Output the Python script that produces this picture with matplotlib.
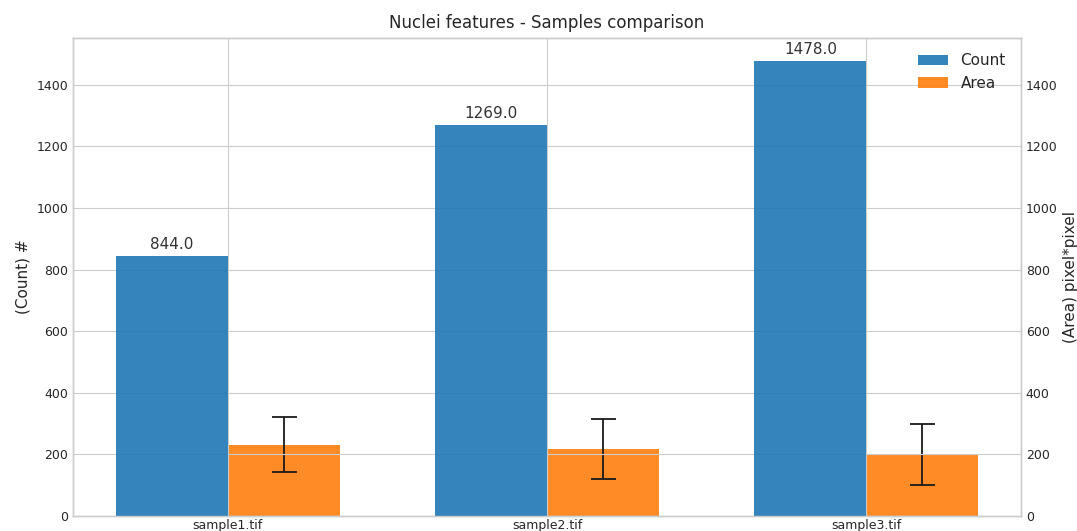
import numpy as np
import matplotlib
matplotlib.use("Agg")
import matplotlib.pyplot as plt

samples = ["sample1.tif", "sample2.tif", "sample3.tif"]
counts = [844.0, 1269.0, 1478.0]
area_mean = [232, 217, 200]
area_std = [88, 98, 99]

plt.style.use("seaborn-v0_8-whitegrid")
plt.rcParams["font.family"] = ["DejaVu Sans"]

fig = plt.figure(figsize=(10.77, 5.31), dpi=100)
ax1 = fig.add_axes([73/1077, 15/531, (1021-73)/1077, (516-38)/531])
ax2 = ax1.twinx()

x = np.arange(len(samples))
w = 0.35
b1 = ax1.bar(x - w/2, counts, w, color="#1f77b4", alpha=0.9, label="Count")
b2 = ax2.bar(x + w/2, area_mean, w, color="#ff7f0e", alpha=0.9, label="Area",
             yerr=area_std, capsize=9, error_kw=dict(ecolor="#1a1a1a", elinewidth=1.3, capthick=1.3))

for rect, c in zip(b1, counts):
    ax1.annotate(f"{c}", (rect.get_x() + rect.get_width()/2, rect.get_height()),
                 xytext=(0, 3), textcoords="offset points", ha="center", va="bottom",
                 fontsize=11, color=".2")

ax1.set_xticks(x)
ax1.set_xticklabels(samples, fontsize=9)
ax1.tick_params(axis="x", pad=2)
ax1.set_ylabel("(Count) #", fontsize=11)
ax2.set_ylabel("(Area) pixel*pixel", fontsize=11)
lim = ax1.get_ylim()
ax2.set_ylim(lim)
ax2.grid(False)
ax1.tick_params(axis="y", labelsize=9)
ax2.tick_params(axis="y", labelsize=9)
ax1.set_title("Nuclei features - Samples comparison", fontsize=12, pad=7)

h = [b1, b2]
ax1.legend(h, ["Count", "Area"], loc="upper right", fontsize=11, frameon=False,
           borderaxespad=0.6)
ax2.set_zorder(ax1.get_zorder() - 1)
ax1.patch.set_visible(False)
ax2.patch.set_visible(True)
ax2.patch.set_facecolor("white")

fig.savefig("out.png", dpi=100)
